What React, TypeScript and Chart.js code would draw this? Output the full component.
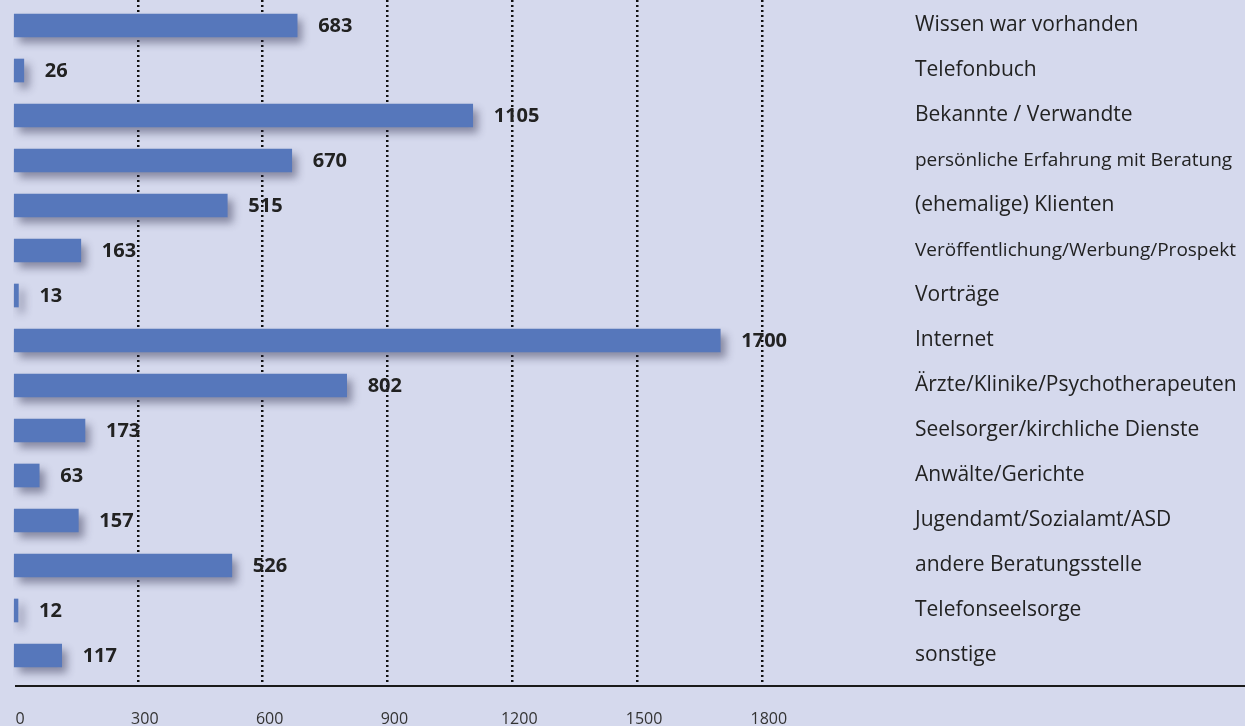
import React, { useEffect, useRef } from "react";
import { Chart, registerables } from "chart.js";
Chart.register(...registerables);

const categories = [
  "Wissen war vorhanden",
  "Telefonbuch",
  "Bekannte / Verwandte",
  "persönliche Erfahrung mit Beratung",
  "(ehemalige) Klienten",
  "Veröffentlichung/Werbung/Prospekt",
  "Vorträge",
  "Internet",
  "Ärzte/Klinike/Psychotherapeuten",
  "Seelsorger/kirchliche Dienste",
  "Anwälte/Gerichte",
  "Jugendamt/Sozialamt/ASD",
  "andere Beratungsstelle",
  "Telefonseelsorge",
  "sonstige",
];
const values = [683, 26, 1105, 670, 515, 163, 13, 1700, 802, 173, 63, 157, 526, 12, 117];
const xTicks = [0, 300, 600, 900, 1200, 1500, 1800];
const narrowLabels = [3, 5];

const BG = "#d5d9ed";
const BAR = "#5677bb";
const TEXT = "#222222";

const shadowPlugin = {
  id: "barShadow",
  beforeDatasetsDraw(chart: any) {
    const ctx = chart.ctx;
    ctx.save();
    ctx.shadowColor = "rgba(40,40,70,0.45)";
    ctx.shadowBlur = 8;
    ctx.shadowOffsetX = 5;
    ctx.shadowOffsetY = 6;
  },
  afterDatasetsDraw(chart: any) {
    chart.ctx.restore();
  },
};

const valueLabelPlugin = {
  id: "valueLabels",
  afterDraw(chart: any) {
    const ctx = chart.ctx;
    const meta = chart.getDatasetMeta(0);
    ctx.save();
    ctx.font = "bold 20px 'Open Sans'";
    ctx.fillStyle = TEXT;
    ctx.textAlign = "left";
    ctx.textBaseline = "middle";
    meta.data.forEach((bar: any, i: number) => {
      ctx.fillText(String(values[i]), bar.x + 21, bar.y + 1);
    });
    ctx.restore();
  },
};

const axisLinePlugin = {
  id: "axisLine",
  afterDatasetsDraw(chart: any) {
    const ctx = chart.ctx;
    const y = chart.chartArea.bottom;
    ctx.save();
    ctx.strokeStyle = "#1a1a1a";
    ctx.lineWidth = 2;
    ctx.beginPath();
    ctx.moveTo(15, y);
    ctx.lineTo(chart.width, y);
    ctx.stroke();
    ctx.restore();
  },
};

export default function App() {
  const ref = useRef<HTMLCanvasElement | null>(null);
  useEffect(() => {
    document.body.style.margin = "0";
    const canvas = ref.current!;
    const chart = new Chart(canvas, {
      type: "bar",
      data: {
        datasets: [
          {
            data: values.map((v, i) => ({ x: v, y: i })),
            backgroundColor: BAR,
            borderWidth: 0,
            barThickness: 23,
          },
        ],
      },
      plugins: [shadowPlugin, axisLinePlugin, valueLabelPlugin],
      options: {
        indexAxis: "y",
        responsive: false,
        animation: false,
        maintainAspectRatio: false,
        layout: { padding: { left: 13, top: 0, right: 0, bottom: 0 } },
        plugins: { legend: { display: false }, tooltip: { enabled: false } },
        scales: {
          x: {
            type: "linear",
            min: 0,
            max: 2108,
            afterBuildTicks: (s: any) => {
              s.ticks = xTicks.map((v) => ({ value: v }));
            },
            afterFit: (s: any) => {
              s.height = 40;
              s.paddingLeft = 0;
              s.paddingRight = 0;
            },
            border: { display: false, dash: [2, 3] },
            grid: {
              drawTicks: false,
              color: (c: any) => (c.tick && c.tick.value > 0 ? "#111111" : "rgba(0,0,0,0)"),
              lineWidth: 2.5,
            },
            ticks: {
              padding: 24,
              labelOffset: 7,
              color: "#333333",
              font: { family: "'Open Sans'", size: 16 },
              maxRotation: 0,
              autoSkip: false,
              callback: (v: any) => String(v),
            },
          },
          y: {
            type: "linear",
            position: "right",
            reverse: true,
            offset: false,
            min: -0.567,
            max: 14.678,
            afterBuildTicks: (s: any) => {
              s.ticks = categories.map((_, i) => ({ value: i }));
            },
            afterFit: (s: any) => {
              s.width = 355;
              s.paddingTop = 0;
              s.paddingBottom = 0;
            },
            border: { display: false },
            grid: { display: false, drawTicks: false, offset: false },
            ticks: {
              padding: 25,
              crossAlign: "near",
              color: TEXT,
              font: (c: any) => ({
                family: "'Open Sans'",
                size: narrowLabels.includes(c.index) ? 19 : 21,
              }),
              callback: (v: any) => categories[v as number] ?? "",
              autoSkip: false,
            },
          },
        },
      } as any,
    });
    return () => chart.destroy();
  }, []);
  return (
    <div style={{ width: 1245, height: 726, background: BG }}>
      <canvas ref={ref} width={1245} height={726} style={{ display: "block" }} />
    </div>
  );
}
